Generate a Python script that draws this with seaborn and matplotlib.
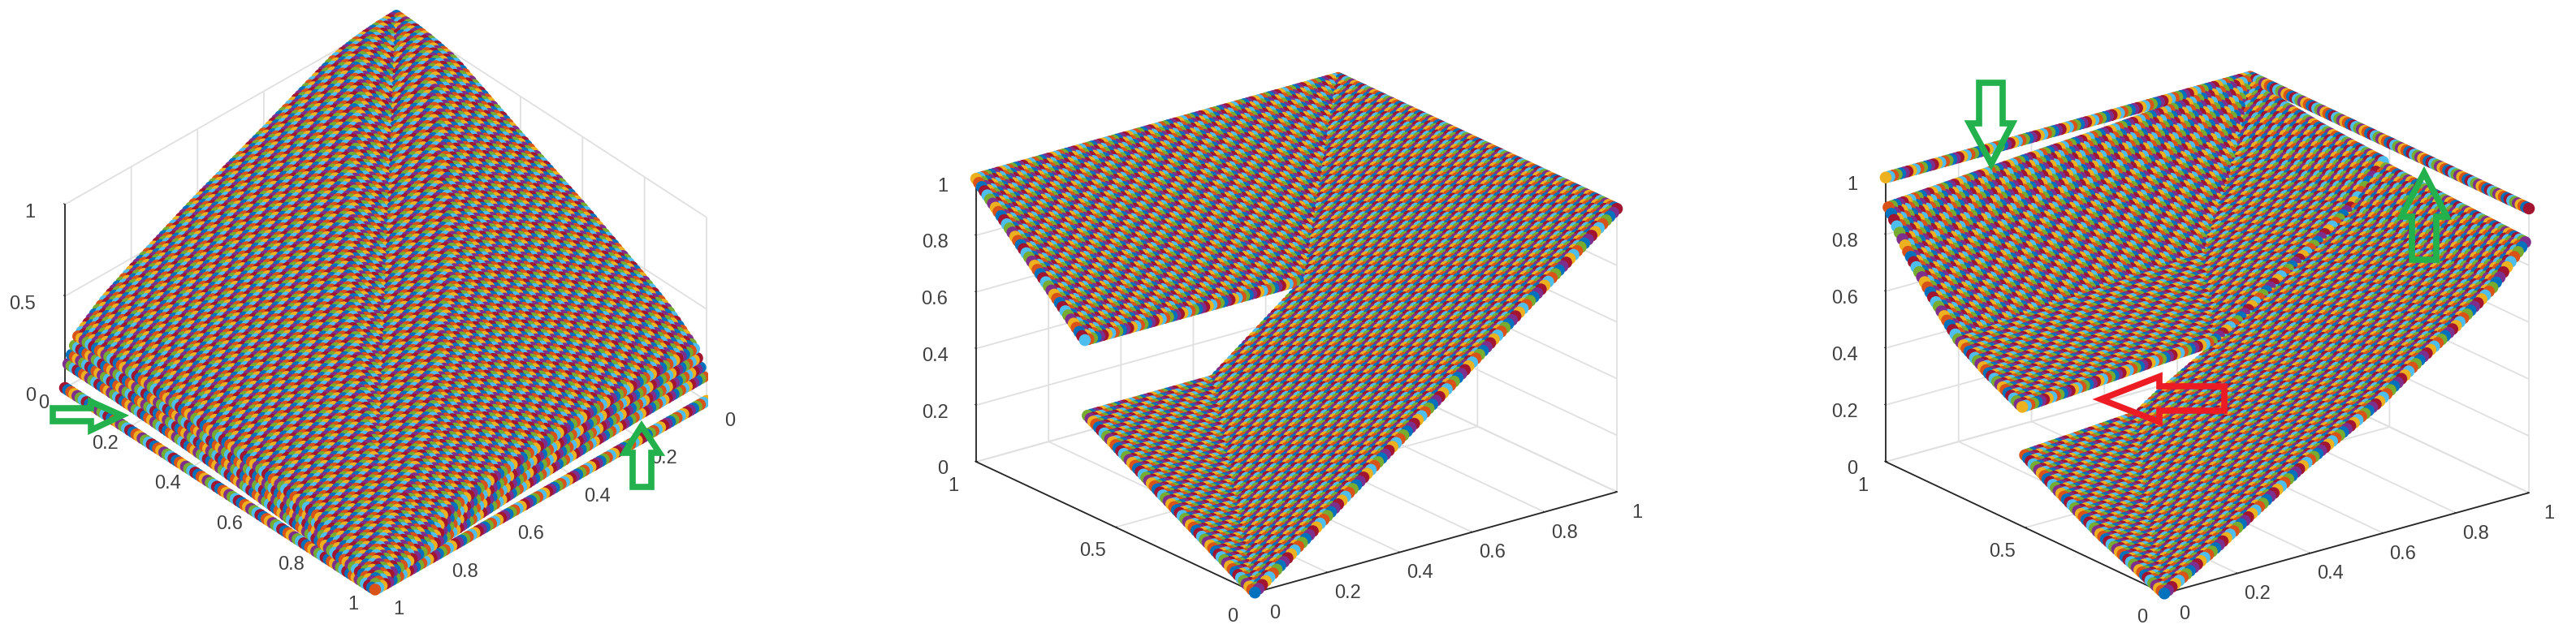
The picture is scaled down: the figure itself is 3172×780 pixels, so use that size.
import numpy as np
import pandas as pd
import seaborn as sns
import matplotlib
matplotlib.use("Agg")
import matplotlib.pyplot as plt
from matplotlib.patches import Polygon
from matplotlib.transforms import IdentityTransform
from mpl_toolkits.mplot3d import proj3d

sns.set_style("white")
plt.rcParams['font.family'] = ['Liberation Sans', 'DejaVu Sans']

W, H = 3172, 780
LINE_COLORS = ["#0072BD", "#D95319", "#EDB120", "#7E2F8E", "#77AC30", "#4DBEEE", "#A2142F"]
palette = sns.color_palette(LINE_COLORS)

# 101 sampled levels per axis (0, 0.01, ... 1)
levels = np.arange(101) / 100

# Panel 1: height profile read along the rear edges
p1_profile = [1.000,.999,.998,.997,.996,.995,.993,.991,.989,.987,.985,.982,.979,.976,.972,.968,.964,.960,.955,.948,.940,
 .931,.923,.914,.906,.897,.889,.880,.872,.863,.855,.846,.838,.829,.821,.812,.804,.795,.787,.778,.770,
 .762,.754,.746,.738,.730,.722,.714,.706,.698,.690,.682,.674,.666,.658,.650,.642,.634,.626,.618,.610,
 .601,.592,.583,.574,.565,.556,.547,.538,.529,.520,.511,.502,.493,.484,.475,.466,.457,.448,.439,.430,
 .420,.410,.400,.390,.380,.370,.360,.350,
 .336,.323,.309,.295,.281,.268,.254,.240,
 .200,.160,.120,0.0]
# height along the central ridge of panel 1
p1_ridge = [round(v, 2) for v in levels[::-1]]

# Panel 2: height along x (front right edge), along y (front left edge, with its jump)
p2_x = [round(v, 2) for v in levels]
p2_y = [0,.006,.012,.017,.023,.029,.035,.041,.046,.052,.058,.064,.070,.075,.081,.087,.093,.099,.104,.110,
 .116,.122,.128,.133,.139,.145,.151,.157,.162,.168,.174,.180,.186,.191,.197,.203,.209,.215,.220,.226,
 .232,.238,.244,.249,.255,.261,.267,.273,.278,.284,.290,.296,.302,.307,.313,.319,.325,.331,.336,.342,.348,
 .61,.62,.63,.64,.65,.66,.67,.68,.69,.70,.71,.72,.73,.74,.75,.76,.77,.78,.79,.80,
 .81,.82,.83,.84,.85,.86,.87,.88,.89,.90,.91,.92,.93,.94,.95,.96,.97,.98,.99,1.0]

# Panel 3: same idea, curved edges
p3_x = [0,.008,.016,.024,.031,.039,.047,.055,.063,.071,.079,.087,.094,.102,.110,.118,
 .127,.135,.144,.152,.161,.170,.178,.187,.196,.204,.213,.221,.230,.239,.247,.256,.264,.273,.282,.290,.299,.307,
 .314,.322,.329,.336,.343,.351,.358,.365,.373,.380,.387,.394,.402,.409,.416,.423,.431,.438,.445,.453,.460,.467,
 .477,.486,.496,.506,.515,.525,.534,.544,.554,.563,.573,
 .582,.590,.599,.607,.616,.624,.633,.641,.650,.658,
 .668,.678,.688,.698,.708,.717,.727,.737,.747,.757,
 .772,.786,.801,.815,.830,.844,.858,.871,.885,1.0]
p3_y = [0,.005,.009,.014,.018,.023,.028,.032,.037,.041,.046,.051,.055,
 .059,.064,.068,.072,.077,.081,.085,.090,.094,.098,.103,
 .108,.114,.119,.125,.130,.136,.141,.147,.152,.158,.163,.169,.174,.180,.185,
 .191,.197,.203,.208,.214,.220,.226,.232,.237,.243,.249,.255,
 .420,.425,.431,.436,.441,.446,.452,.457,.462,.467,.473,.478,.483,
 .489,.495,.502,.508,.514,.521,.527,.533,.540,.546,.552,
 .564,.575,.587,.599,.610,.622,.634,.645,.657,
 .670,.683,.697,.710,.723,.736,.749,.763,.776,
 .794,.811,.829,.847,.865,.882,.900,1.0]

ticks_even = [0, .2, .4, .6, .8, 1]
ticks_half = [0, .5, 1]
tick_text = {0: "0", .2: "0.2", .4: "0.4", .5: "0.5", .6: "0.6", .8: "0.8", 1: "1"}
COUPLING = 0.11  # rise of a row towards the far corner, read from the narrowing gaps


def table(zfun):
    """Points in plotting order: outer loop x, inner loop y, colour cycling per point."""
    ii, jj = np.meshgrid(np.arange(101), np.arange(101), indexing="ij")
    return pd.DataFrame({"x": levels[ii].ravel(), "y": levels[jj].ravel(),
                         "z": zfun(ii, jj).ravel(),
                         "k": ((ii * 101 + jj) % 7).ravel()})


f1, d1 = np.array(p1_profile), np.array(p1_ridge)
x2, y2 = np.array(p2_x), np.array(p2_y)
x3, y3 = np.array(p3_x), np.array(p3_y)


def coupled(a, b):
    return np.minimum(1.0, np.maximum(a, b) + COUPLING * np.minimum(a, b))


def ridge(i, j):
    m = np.maximum(i, j)
    r = np.minimum(i, j) / np.maximum(m, 1)
    return f1[m] - r ** 2 * (f1[m] - d1[m])


panels = [
    dict(df=table(ridge), elev=37.5, azim=46.9, k=.51,
         xt=ticks_even, yt=ticks_even, zt=ticks_half,
         left=(80, 478), right=(870, 485), top=(80, 251), corners=((1, 0, 0), (0, 1, 0), (1, 0, 1))),
    dict(df=table(lambda i, j: np.maximum(x2[i], y2[j])), elev=21.2, azim=-127.6, k=.665,
         xt=ticks_even, yt=ticks_half, zt=ticks_even,
         left=(1202, 569), right=(1991, 604), top=(1202, 220), corners=((0, 1, 0), (1, 0, 0), (0, 1, 1))),
    dict(df=table(lambda i, j: coupled(x3[i], y3[j])),
         elev=21.2, azim=-127.4, k=.665,
         xt=ticks_even, yt=ticks_half, zt=ticks_even,
         left=(2322, 569), right=(3114, 604), top=(2322, 220), corners=((0, 1, 0), (1, 0, 0), (0, 1, 1))),
]

fig = plt.figure(figsize=(W / 100, H / 100), dpi=100, facecolor="white")


def px(ax, p):
    u, v, _ = proj3d.proj_transform(p[0], p[1], p[2], ax.get_proj())
    return ax.transData.transform((u, v))


for P in panels:
    ax = fig.add_subplot(projection="3d", computed_zorder=False)
    ax.set_proj_type("ortho")
    ax.view_init(elev=P["elev"], azim=P["azim"])
    ax.set_xlim(0, 1, view_margin=0)
    ax.set_ylim(0, 1, view_margin=0)
    ax.set_zlim(0, 1, view_margin=0)
    ax.set_box_aspect((1, 1, P["k"]))
    ax.patch.set_visible(False)
    df = P["df"]
    ax.scatter(df["x"], df["y"], df["z"], c=[palette[k] for k in df["k"]], s=110,
               linewidths=0, edgecolors="none", depthshade=False, alpha=1)

    ax.set_xticks(P["xt"]); ax.set_yticks(P["yt"]); ax.set_zticks(P["zt"])
    ax.set_xticklabels([tick_text[t] for t in P["xt"]], va="bottom")
    ax.set_yticklabels([tick_text[t] for t in P["yt"]], va="bottom" if P is panels[0] else "center")
    ax.set_zticklabels([tick_text[t] for t in P["zt"]], ha="right")
    for axis in (ax.xaxis, ax.yaxis, ax.zaxis):
        axis.set_pane_color((1, 1, 1, 0))
        axis.pane.set_edgecolor("#dcdcdc")
        axis.line.set_color("#262626")
        axis.line.set_linewidth(1.3)
        axis._axinfo["grid"].update(color="#e0e0e0", linewidth=1.3)
        axis._axinfo["tick"].update(inward_factor=0.0, outward_factor=0.05)
    # z ticks run parallel to the y axis, as in the reference
    ax.zaxis._get_tickdir = lambda position: 1
    ax.tick_params(axis="x", labelsize=17, labelcolor="#404040", color="#262626", pad=15)
    ax.tick_params(axis="y", labelsize=17, labelcolor="#404040", color="#262626", pad=12)
    ax.tick_params(axis="z", labelsize=17, labelcolor="#404040", color="#262626", pad=6)
    ax.grid(True)

    # fit the axes box so that the floor and the z axis sit where they do in the reference
    s = 1000.0
    cx, cy = (P["left"][0] + P["right"][0]) / 2, H - (P["left"][1] + P["right"][1]) / 2
    ax.set_position([(cx - s / 2) / W, (cy - s / 2) / H, s / W, s / H])
    ax.apply_aspect()
    a, b, c = [px(ax, q) for q in P["corners"]]
    span = abs(b[0] - a[0])
    s *= abs(P["right"][0] - P["left"][0]) / span
    ax.set_position([(cx - s / 2) / W, (cy - s / 2) / H, s / W, s / H])
    ax.apply_aspect()
    a, b, c = [px(ax, q) for q in P["corners"]]
    dx = P["left"][0] - a[0]
    dy = (H - P["left"][1]) - a[1]
    ax.set_position([(cx - s / 2 + dx) / W, (cy - s / 2 + dy) / H, s / W, s / H])
    ax.apply_aspect()

GREEN, RED = "#22B14C", "#ED1C24"
arrows = [
    (GREEN, [(65, 503), (112, 503), (112, 495), (150, 512), (112, 530), (112, 519), (65, 519)]),
    (GREEN, [(790, 525), (812, 558), (802, 558), (802, 600), (779, 600), (779, 558), (769, 558)]),
    (GREEN, [(2437, 102), (2466, 102), (2466, 152), (2478, 152), (2452, 202), (2425, 152), (2437, 152)]),
    (GREEN, [(2985, 213), (3013, 267), (3000, 267), (3000, 320), (2970, 320), (2970, 267), (2957, 267)]),
    (RED,   [(2587, 492), (2659, 464), (2659, 476), (2739, 476), (2739, 506), (2659, 506), (2659, 520)]),
]
for color, pts in arrows:
    fig.add_artist(Polygon([(x, H - y) for x, y in pts], closed=True, fill=False, edgecolor=color,
                           linewidth=5.5, joinstyle="miter", transform=IdentityTransform(), zorder=20))

fig.savefig("out.png", dpi=100)
